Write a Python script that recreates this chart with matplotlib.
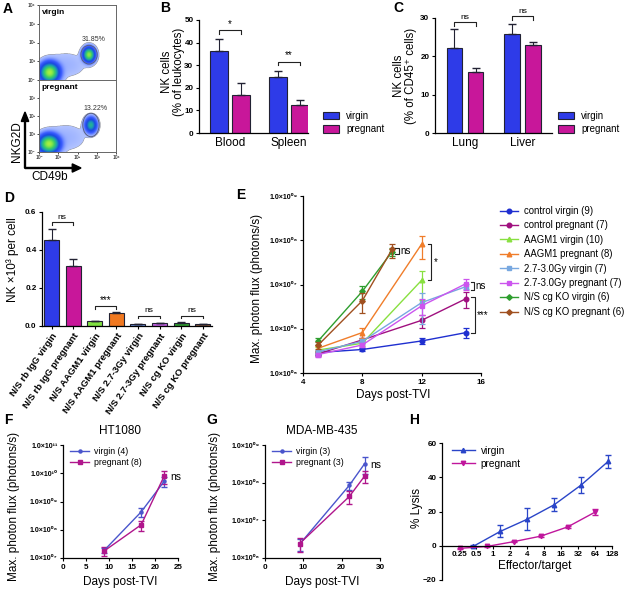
import numpy as np
import matplotlib
matplotlib.use("Agg")
import matplotlib.pyplot as plt
from matplotlib.patches import Ellipse, Patch, FancyArrow
from matplotlib.colors import LinearSegmentedColormap

plt.rcParams['font.family'] = ['Liberation Sans', 'DejaVu Sans']
plt.rcParams['axes.linewidth'] = 0.9
plt.rcParams['xtick.major.width'] = 0.8
plt.rcParams['ytick.major.width'] = 0.8
plt.rcParams['xtick.major.size'] = 2.5
plt.rcParams['ytick.major.size'] = 2.5

W, H = 625, 590
BLUE = '#2e3be8'
MAG = '#c8179a'
EDGE = '#222233'

# ---------- data ----------
# A: flow populations (log10 x, log10 y, sd x, sd y, weight)
virgin_pops = [(0.55, 0.4, 0.26, 0.27, 1.0), (2.6, 1.35, 0.16, 0.2, 0.9), (1.4, 0.8, 0.7, 0.45, 0.01)]
pregnant_pops = [(0.52, 0.45, 0.28, 0.27, 1.0), (2.7, 1.5, 0.16, 0.22, 0.45), (1.4, 0.8, 0.7, 0.5, 0.01)]
gate_virgin = (2.6, 1.35, 0.85, 1.0)
gate_pregnant = (2.7, 1.5, 0.85, 1.3)
pct_virgin = '31.85%'
pct_pregnant = '13.22%'

# B
b_groups = ['Blood', 'Spleen']
b_virgin = [36.5, 25.0]
b_virgin_err = [5.0, 2.5]
b_preg = [17.0, 12.5]
b_preg_err = [5.3, 2.3]

# C
c_groups = ['Lung', 'Liver']
c_virgin = [22.3, 25.7]
c_virgin_err = [4.9, 2.8]
c_preg = [15.8, 23.0]
c_preg_err = [1.2, 0.8]

# D
d_labels = ['N/S rb IgG virgin', 'N/S rb IgG pregnant', 'N/S AAGM1 virgin', 'N/S AAGM1 pregnant',
            'N/S 2.7-3Gy virgin', 'N/S 2.7-3Gy pregnant', 'N/S cg KO virgin', 'N/S cg KO pregnant']
d_values = [0.455, 0.318, 0.025, 0.068, 0.008, 0.015, 0.017, 0.008]
d_err = [0.055, 0.037, 0.002, 0.007, 0.002, 0.003, 0.003, 0.002]
d_colors = ['#2e3be8', '#c8179a', '#80e040', '#f07820', '#6a8fd8', '#c060e0', '#30a030', '#8a5a3a']

# E
e_names = ['control virgin (9)', 'control pregnant (7)', 'AAGM1 virgin (10)', 'AAGM1 pregnant (8)',
           '2.7-3.0Gy virgin (7)', '2.7-3.0Gy pregnant (7)', 'N/S cg KO virgin (6)', 'N/S cg KO pregnant (6)']
e_days = [[5, 8, 12, 15], [5, 8, 12, 15], [5, 8, 12], [5, 8, 12],
          [5, 8, 12, 15], [5, 8, 12, 15], [5, 8, 10], [5, 8, 10]]
e_flux = [[2.9e5, 3.4e5, 5.3e5, 8.2e5],
          [2.7e5, 5.6e5, 1.55e6, 4.8e6],
          [3.3e5, 4.7e5, 1.25e7],
          [3.6e5, 8.2e5, 8.2e7],
          [3.0e5, 5.2e5, 3.9e6, 9.0e6],
          [2.6e5, 4.3e5, 3.3e6, 1.05e7],
          [5.2e5, 7.0e6, 5.5e7],
          [4.2e5, 4.3e6, 6.2e7]]
e_sem = [[0.3e5, 0.2e5, 0.8e5, 2.0e5],
         [0.3e5, 0.5e5, 0.5e6, 1.8e6],
         [0.5e5, 0.6e5, 0.8e7],
         [0.4e5, 2.0e5, 4.5e7],
         [0.3e5, 0.6e5, 2.6e6, 1.2e6],
         [0.3e5, 0.5e5, 1.3e6, 3.0e6],
         [1.0e5, 2.2e6, 1.2e7],
         [0.8e5, 2.0e6, 2.2e7]]
e_colors = ['#1f2fd0', '#a0107f', '#88e040', '#f07d2a', '#78a8e0', '#cc55ee', '#2e9e2e', '#a05020']
e_markers = ['o', 'o', '^', '^', 's', 's', 'D', 'D']

# F
f_days = [9, 17, 22]
f_virgin = [1.9e7, 4.3e8, 5.2e9]
f_virgin_err = [0.4e7, 1.5e8, 2.0e9]
f_preg = [1.8e7, 1.5e8, 8.0e9]
f_preg_err = [0.6e7, 0.6e8, 4.0e9]

# G
g_days = [9, 22, 26]
g_virgin = [2.3e6, 8.5e7, 3.2e8]
g_virgin_err = [0.8e6, 2.0e7, 1.5e8]
g_preg = [2.4e6, 4.3e7, 1.5e8]
g_preg_err = [1.0e6, 1.6e7, 0.5e8]

# H
h_et_virgin = [0.45, 1.35, 4.05, 12.2, 36.5, 109]
h_lysis_virgin = [-0.3, 8.4, 15.5, 24.0, 35.5, 49.2]
h_err_virgin = [0.5, 3.5, 6.3, 3.8, 4.5, 4.0]
h_et_preg = [0.26, 0.78, 2.33, 7.0, 21.0, 63.0]
h_lysis_preg = [-1.5, -0.4, 2.4, 5.6, 11.0, 19.5]
h_err_preg = [0.4, 0.4, 0.5, 0.6, 0.8, 1.8]
h_ticks = [0.25, 0.5, 1, 2, 4, 8, 16, 32, 64, 128]

# ---------- helpers ----------
fig = plt.figure(figsize=(W / 100, H / 100), dpi=100)


def px_ax(x0, y0, x1, y1):
    return fig.add_axes([x0 / W, 1 - y1 / H, (x1 - x0) / W, (y1 - y0) / H])


def ftext(x, y, s, **kw):
    fig.text(x / W, 1 - y / H, s, **kw)


def style(ax, size=5.8):
    ax.spines['top'].set_visible(False)
    ax.spines['right'].set_visible(False)
    ax.tick_params(labelsize=size, pad=1.5)
    for lab in ax.get_xticklabels() + ax.get_yticklabels():
        lab.set_fontweight('bold')


def hbracket(ax, x1, x2, y, h, txt, size=6):
    ax.plot([x1, x1, x2, x2], [y - h, y, y, y - h], color='#222', lw=0.8, clip_on=False)
    ax.text((x1 + x2) / 2, y + h * 0.4, txt, ha='center', va='bottom', fontsize=size, clip_on=False)


def vbracket(ax, x1, x2, y1, y2, txt, tx, size=7):
    ax.plot([x1, x2, x2, x1], [y1, y1, y2, y2], color='#222', lw=0.8, clip_on=False)
    ym = np.sqrt(y1 * y2)
    ax.text(tx, ym, txt, ha='left', va='center', fontsize=size, clip_on=False)


sup = {'0': '⁰', '1': '¹', '2': '²', '3': '³', '4': '⁴', '5': '⁵', '6': '⁶', '7': '⁷', '8': '⁸', '9': '⁹'}


def sci(e):
    return '1.0×10' + ''.join(sup[c] for c in '%02d' % e)


# ---------- panel letters ----------
for letter, x, y in [('A', 8, 9), ('B', 165, 8), ('C', 398, 8), ('D', 9, 198),
                     ('E', 241, 195), ('F', 8, 420), ('G', 212, 420), ('H', 414, 420)]:
    ftext(x, y, letter, fontsize=10, fontweight='bold', ha='center', va='center')

# ---------- A ----------
cmap_flow = LinearSegmentedColormap.from_list('flow', ['#e4ebff', '#9ab0ff', '#3a5cff', '#1a48e0',
                                                       '#1aa0b0', '#40d060', '#a8f040'])
grid = np.linspace(0, 4, 260)
GX, GY = np.meshgrid(grid, grid)


def density(pops):
    z = np.zeros_like(GX)
    for cx, cy, sx, sy, w in pops:
        z += w * np.exp(-((GX - cx) ** 2 / (2 * sx ** 2) + (GY - cy) ** 2 / (2 * sy ** 2)))
    z = z / z.max()
    return np.ma.masked_less(z, 0.004)


for (y0, y1), pops, gate, pct, name in [((5, 80), virgin_pops, gate_virgin, pct_virgin, 'virgin'),
                                         ((80, 152), pregnant_pops, gate_pregnant, pct_pregnant, 'pregnant')]:
    ax = px_ax(39, y0, 116, y1)
    z = density(pops)
    ax.imshow(z ** 0.4, extent=(0, 4, 0, 4), origin='lower', cmap=cmap_flow, aspect='auto', vmin=0, vmax=1)
    cx, cy, gw, gh = gate
    ax.add_patch(Ellipse((cx, cy), gw, gh, fill=False, ec='#5a6080', lw=0.7))
    ax.text(cx + 0.25, cy + gh / 2 + 0.1, pct, fontsize=5, ha='center', va='bottom', color='#333')
    ax.text(0.15, 3.8, name, fontsize=6, fontweight='bold', va='top')
    ax.set_xlim(0, 4)
    ax.set_ylim(0, 4)
    for s in ax.spines.values():
        s.set_color('#666')
        s.set_linewidth(0.7)
    ax.tick_params(length=1.5, width=0.5, labelsize=3.5, pad=1)
    ax.set_yticks(range(5) if name == 'virgin' else range(4))
    ax.set_yticklabels(['10' + sup[str(i)] for i in (range(5) if name == 'virgin' else range(4))])
    ax.set_xticks(range(5))
    if name == 'pregnant':
        ax.set_xticklabels(['10' + sup[str(i)] for i in range(5)])
    else:
        ax.set_xticklabels([])
        ax.tick_params(axis='x', length=0)

fig.add_artist(FancyArrow(25 / W, 1 - 168 / H, 0, 56 / H, width=0.0015, head_width=0.012, head_length=0.016,
                          color='k', length_includes_head=True, transform=fig.transFigure))
fig.add_artist(FancyArrow(25 / W, 1 - 168 / H, 56 / W, 0, width=0.0017, head_width=0.014, head_length=0.014,
                          color='k', length_includes_head=True, transform=fig.transFigure))
ftext(17, 142, 'NKG2D', rotation=90, fontsize=8.5, ha='center', va='center')
ftext(50, 177, 'CD49b', fontsize=8.5, ha='center', va='center')

# ---------- B ----------
ax = px_ax(199, 20, 308, 133)
xb = np.arange(len(b_groups))
off, bw = 0.186, 0.31
ax.bar(xb - off, b_virgin, bw, color=BLUE, edgecolor=EDGE, lw=0.8)
ax.bar(xb + off, b_preg, bw, color=MAG, edgecolor=EDGE, lw=0.8)
ax.errorbar(xb - off, b_virgin, yerr=[np.zeros(2), b_virgin_err], fmt='none', ecolor=EDGE, elinewidth=0.8, capsize=3)
ax.errorbar(xb + off, b_preg, yerr=[np.zeros(2), b_preg_err], fmt='none', ecolor=EDGE, elinewidth=0.8, capsize=3)
ax.set_xlim(-0.525, 1.32)
ax.set_ylim(0, 50)
ax.set_yticks([0, 10, 20, 30, 40, 50])
ax.set_xticks(xb)
ax.set_xticklabels(b_groups)
style(ax)
ax.tick_params(axis='x', length=0, labelsize=8.5, pad=3)
for lab in ax.get_xticklabels():
    lab.set_fontweight('normal')
hbracket(ax, -off, off, 45.5, 1.5, '*', size=7)
hbracket(ax, 1 - off, 1 + off, 31.5, 1.5, '**', size=7)
ax.legend(handles=[Patch(fc=BLUE, ec=EDGE, lw=0.8, label='virgin'), Patch(fc=MAG, ec=EDGE, lw=0.8, label='pregnant')],
          loc='upper left', bbox_to_anchor=(323 / W, 1 - 111 / H), bbox_transform=fig.transFigure,
          frameon=False, fontsize=7, handlelength=1.6, handleheight=0.8, borderpad=0, borderaxespad=0,
          labelspacing=0.35, handletextpad=0.8)
ftext(173, 72, 'NK cells\n(% of leukocytes)', rotation=90, fontsize=8.3, ha='center', va='center',
      multialignment='center', linespacing=1.05)

# ---------- C ----------
ax = px_ax(435, 18, 552, 133)
xc = np.arange(len(c_groups))
off, bw = 0.183, 0.27
ax.bar(xc - off, c_virgin, bw, color=BLUE, edgecolor=EDGE, lw=0.8)
ax.bar(xc + off, c_preg, bw, color=MAG, edgecolor=EDGE, lw=0.8)
ax.errorbar(xc - off, c_virgin, yerr=[np.zeros(2), c_virgin_err], fmt='none', ecolor=EDGE, elinewidth=0.8, capsize=3)
ax.errorbar(xc + off, c_preg, yerr=[np.zeros(2), c_preg_err], fmt='none', ecolor=EDGE, elinewidth=0.8, capsize=3)
ax.set_xlim(-0.52, 1.51)
ax.set_ylim(0, 30)
ax.set_yticks([0, 10, 20, 30])
ax.set_xticks(xc)
ax.set_xticklabels(c_groups)
style(ax)
ax.tick_params(axis='x', length=0, labelsize=8.5, pad=3)
for lab in ax.get_xticklabels():
    lab.set_fontweight('normal')
hbracket(ax, -off, off, 28.9, 0.9, 'ns', size=6)
hbracket(ax, 1 - off, 1 + off, 30.4, 0.9, 'ns', size=6)
ax.legend(handles=[Patch(fc=BLUE, ec=EDGE, lw=0.8, label='virgin'), Patch(fc=MAG, ec=EDGE, lw=0.8, label='pregnant')],
          loc='upper left', bbox_to_anchor=(558 / W, 1 - 111 / H), bbox_transform=fig.transFigure,
          frameon=False, fontsize=7, handlelength=1.6, handleheight=0.8, borderpad=0, borderaxespad=0,
          labelspacing=0.35, handletextpad=0.8)
ftext(405, 76, 'NK cells\n(% of CD45⁺ cells)', rotation=90, fontsize=8.3, ha='center', va='center',
      multialignment='center', linespacing=1.05)

# ---------- D ----------
ax = px_ax(42, 212, 212, 326)
xd = np.arange(len(d_values))
ax.bar(xd, d_values, 0.7, color=d_colors, edgecolor=EDGE, lw=0.8)
ax.errorbar(xd, d_values, yerr=[np.zeros(len(xd)), d_err], fmt='none', ecolor=EDGE, elinewidth=0.8, capsize=3)
ax.set_xlim(-0.44, 7.43)
ax.set_ylim(0, 0.6)
ax.set_yticks([0, 0.2, 0.4, 0.6])
ax.set_yticklabels(['0.0', '0.2', '0.4', '0.6'])
ax.set_xticks(xd)
ax.set_xticklabels(d_labels, rotation=55, ha='right', rotation_mode='anchor')
style(ax)
ax.tick_params(axis='x', labelsize=6.8)
hbracket(ax, 0, 1, 0.545, 0.015, 'ns', size=6)
hbracket(ax, 2, 3, 0.105, 0.015, '***', size=7)
hbracket(ax, 4, 5, 0.055, 0.015, 'ns', size=6)
hbracket(ax, 6, 7, 0.055, 0.015, 'ns', size=6)
ftext(13, 260, 'NK ×10³ per cell', rotation=90, fontsize=8.5, ha='center', va='center')

# ---------- E ----------
ax = px_ax(303, 196, 481, 373)
handles = []
for d, f, s, c, m, n in zip(e_days, e_flux, e_sem, e_colors, e_markers, e_names):
    ax.errorbar(d, f, yerr=s, fmt='none', ecolor=c, elinewidth=0.9, capsize=2.2, capthick=0.9)
    ln, = ax.plot(d, f, color=c, marker=m, ms=3.3 if m != 'D' else 2.8, lw=1.0, label=n)
    handles.append(ln)
ax.set_yscale('log')
ax.set_ylim(1e5, 1e9)
ax.set_xlim(4, 16)
ax.set_xticks([4, 8, 12, 16])
ax.set_yticks([1e5, 1e6, 1e7, 1e8, 1e9])
ax.minorticks_off()
style(ax)
ax.set_yticklabels([sci(e) for e in range(5, 10)], fontsize=5, fontweight='bold')
vbracket(ax, 10.2, 10.45, 6.7e7, 4.9e7, 'ns', 10.55)
vbracket(ax, 12.43, 12.65, 8.2e7, 1.26e7, '*', 12.85)
vbracket(ax, 15.35, 15.55, 1.15e7, 7.5e6, 'ns', 15.65)
vbracket(ax, 15.35, 15.62, 5.1e6, 8.1e5, '***', 15.75)
ax.legend(handles=handles, loc='upper left', bbox_to_anchor=(500 / W, 1 - 206 / H), bbox_transform=fig.transFigure,
          frameon=False, fontsize=6.9, handlelength=1.9, borderpad=0, borderaxespad=0, labelspacing=0.46,
          handletextpad=0.6)
ftext(393, 395, 'Days post-TVI', fontsize=8.5, ha='center', va='center')
ftext(257, 288, 'Max. photon flux (photons/s)', rotation=90, fontsize=8.5, ha='center', va='center')

# ---------- F and G ----------
for rect, days, v, ve, p, pe, lab_v, lab_p, title, xlim, xt, ylim, ylab_x, title_x, ns_xy in [
        ((63, 445, 178, 558), f_days, f_virgin, f_virgin_err, f_preg, f_preg_err, 'virgin (4)', 'pregnant (8)',
         'HT1080', (0, 25), [0, 5, 10, 15, 20, 25], (7, 11), 14, 120, (23.3, 7.5e9)),
        ((265, 445, 380, 558), g_days, g_virgin, g_virgin_err, g_preg, g_preg_err, 'virgin (3)', 'pregnant (3)',
         'MDA-MB-435', (0, 30), [0, 10, 20, 30], (6, 9), 215, 322, (27.5, 3.0e8))]:
    ax = px_ax(*rect)
    ax.errorbar(days, v, yerr=ve, fmt='none', ecolor='#4a55cc', elinewidth=0.9, capsize=2.2)
    ax.errorbar(days, p, yerr=pe, fmt='none', ecolor='#b0168c', elinewidth=0.9, capsize=2.2)
    h1, = ax.plot(days, v, color='#4a55cc', marker='o', ms=2.2, lw=1.0, label=lab_v)
    h2, = ax.plot(days, p, color='#b0168c', marker='s', ms=2.2, lw=1.0, label=lab_p)
    ax.set_yscale('log')
    ax.set_ylim(10.0 ** ylim[0], 10.0 ** ylim[1])
    ax.set_yticks([10.0 ** e for e in range(ylim[0], ylim[1] + 1)])
    ax.minorticks_off()
    ax.set_xlim(*xlim)
    ax.set_xticks(xt)
    style(ax)
    ax.set_yticklabels([sci(e) for e in range(ylim[0], ylim[1] + 1)], fontsize=5, fontweight='bold')
    ax.text(ns_xy[0], ns_xy[1], 'ns', fontsize=7.5, va='center', ha='left', clip_on=False)
    ax.legend(handles=[h1, h2], loc='upper left', bbox_to_anchor=(0.06, 0.98), frameon=False, fontsize=6.3,
              handlelength=2.2, borderpad=0, borderaxespad=0, labelspacing=0.2, handletextpad=0.6)
    ftext(title_x, 431, title, fontsize=8.5, ha='center', va='center')
    ftext((rect[0] + rect[2]) / 2, 582, 'Days post-TVI', fontsize=8.5, ha='center', va='center')
    ftext(ylab_x, 506, 'Max. photon flux (photons/s)', rotation=90, fontsize=8.5, ha='center', va='center')

# ---------- H ----------
ax = px_ax(442, 443, 612, 580)
ax.errorbar(h_et_virgin, h_lysis_virgin, yerr=h_err_virgin, fmt='none', ecolor='#2a45c8', elinewidth=0.9, capsize=2.5)
ax.errorbar(h_et_preg, h_lysis_preg, yerr=h_err_preg, fmt='none', ecolor='#c0169c', elinewidth=0.9, capsize=2.5)
h1, = ax.plot(h_et_virgin, h_lysis_virgin, color='#2a45c8', marker='^', ms=3.2, lw=1.0, label='virgin')
h2, = ax.plot(h_et_preg, h_lysis_preg, color='#c0169c', marker='v', ms=3.2, lw=1.0, label='pregnant')
ax.set_xscale('log', base=2)
ax.set_xlim(0.125, 128)
ax.set_ylim(-20, 60)
ax.set_xticks(h_ticks)
ax.set_xticklabels([('%g' % t) for t in h_ticks])
ax.minorticks_off()
ax.set_yticks([-20, 0, 20, 40, 60])
ax.spines['bottom'].set_position(('data', 0))
style(ax)
ax.legend(handles=[h1, h2], loc='upper left', bbox_to_anchor=(0.06, 0.98), frameon=False, fontsize=7.3,
          handlelength=2.2, borderpad=0, borderaxespad=0, labelspacing=0.3, handletextpad=0.6)
ftext(535, 566, 'Effector/target', fontsize=8.5, ha='center', va='center')
ftext(417, 508, '% Lysis', rotation=90, fontsize=8.5, ha='center', va='center')

fig.savefig('out.png', dpi=100)
